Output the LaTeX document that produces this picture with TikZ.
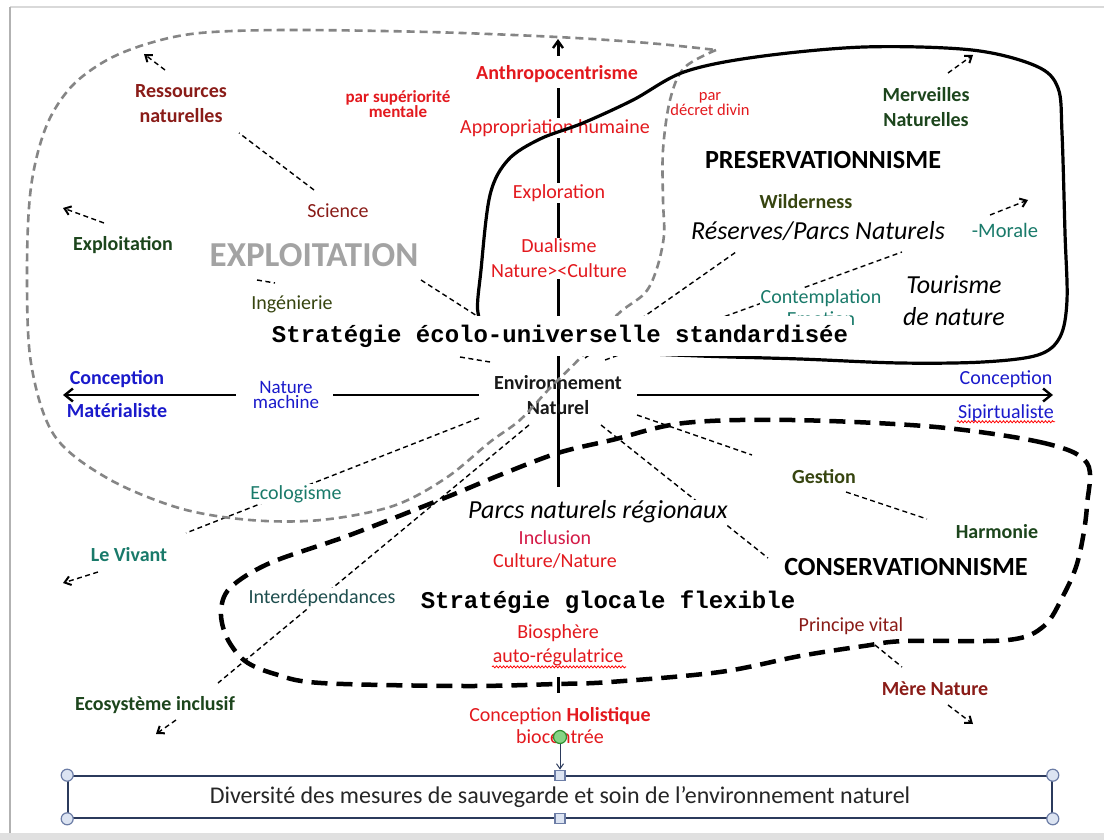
\documentclass[tikz,border=0pt]{standalone}
\usepackage{fontspec}
\setmainfont{Carlito}
\setmonofont{Liberation Mono}
\usetikzlibrary{arrows.meta,decorations.pathmorphing}

\definecolor{txtred}{HTML}{E3191E}
\definecolor{txtcrimson}{HTML}{D41B47}
\definecolor{txtbrown}{HTML}{8A1C18}
\definecolor{txtgreen}{HTML}{1C451C}
\definecolor{txtolive}{HTML}{374510}
\definecolor{txtteal}{HTML}{197A6A}
\definecolor{txtdteal}{HTML}{1E4E4E}
\definecolor{txtblue}{HTML}{1A1ACB}
\definecolor{txtgray}{HTML}{A3A3A3}
\definecolor{curvegray}{HTML}{858585}
\definecolor{boxline}{HTML}{2B3A5C}
\definecolor{handlefill}{HTML}{DCE4F2}
\definecolor{handledraw}{HTML}{6C7DA6}
\definecolor{rotfill}{HTML}{86D486}
\definecolor{rotdraw}{HTML}{2F8F2F}

\tikzset{
  lbl/.style={font=\fontsize{20}{25}\selectfont, inner sep=1pt, align=center},
  lblb/.style={font=\fontsize{20}{25}\selectfont\bfseries, inner sep=1pt, align=center},
  smalllbl/.style={font=\fontsize{16.5}{15}\selectfont, inner sep=1pt, align=center},
  biglbl/.style={font=\fontsize{26.2}{30}\selectfont\bfseries, inner sep=1pt},
  itlbl/.style={font=\fontsize{26}{32}\selectfont\itshape, inner sep=1pt, align=center},
  monolbl/.style={font=\fontsize{24}{28}\selectfont\ttfamily\bfseries, inner sep=2pt},
  blank/.style={fill=white},
  ray/.style={black, line width=1.4pt, dash pattern=on 5pt off 3.5pt},
  rayarrow/.style={ray, -{Straight Barb[length=6pt,width=9pt,line width=2pt]}},
  axis/.style={black, line width=3pt},
  haxis/.style={black, line width=2.6pt},
  graycurve/.style={curvegray, line width=2.6pt, dash pattern=on 8pt off 5pt},
  presv/.style={black, line width=3.2pt},
  conserv/.style={black, line width=4.5pt, dash pattern=on 16pt off 9pt},
  handle/.style={circle, draw=handledraw, fill=handlefill, line width=1.2pt, minimum size=12pt, inner sep=0pt},
  sqhandle/.style={rectangle, draw=handledraw, fill=handlefill, line width=1.2pt, minimum size=10pt, inner sep=0pt},
  wavy/.style={red, line width=0.8pt, decorate, decoration={snake, amplitude=1pt, segment length=3.5pt}}
}

\begin{document}
\begin{tikzpicture}[x=1pt,y=-1pt]
\useasboundingbox (0,0) rectangle (1104,840);
% page frame
\fill[white] (0,0) rectangle (1104,840);
\fill[black!12] (0,833) rectangle (1104,840);
\draw[black!15, line width=1.5pt] (10,7) -- (1104,7);
\draw[black!30, line width=2pt] (10,833) -- (10,7);

% ---------- axis coordinates ----------
\coordinate (vtop) at (558,39);
\coordinate (vtopbase) at (558,56);
\coordinate (vhigh) at (558,88);
\coordinate (vlow) at (558,487);
\coordinate (vb1) at (558,677);
\coordinate (vb2) at (558,693);
\coordinate (tipL) at (63,395);
\coordinate (hl1) at (236,395);
\coordinate (hl2) at (333,395);
\coordinate (hl3) at (479,395);
\coordinate (hr1) at (637,395);
\coordinate (tipR) at (1053,395);

% vertical axis
\draw[axis, -{Straight Barb[length=7pt,width=10pt,line width=2.4pt]}] (vtopbase) -- (vtop);
\draw[axis] (vlow) -- (vhigh);
\draw[axis] (vb1) -- (vb2);
% horizontal axis
\draw[haxis, {Straight Barb[length=8pt,width=13pt,line width=2.4pt]}-] (tipL) -- (hl1);
\draw[haxis] (hl2) -- (hl3);
\draw[haxis, -{Straight Barb[length=8pt,width=13pt,line width=2.4pt]}] (hr1) -- (tipR);

% ---------- radial dashed links ----------
\coordinate (rExpA) at (421,280);  \coordinate (rExpB) at (530,350);
\coordinate (rIngA) at (460,357);  \coordinate (rIngB) at (490,362);
\coordinate (rIng2A) at (257,280); \coordinate (rIng2B) at (275,283);
\coordinate (rResA) at (585,358);  \coordinate (rResB) at (736,252);
\coordinate (rNatA) at (605,360);  \coordinate (rNatB) at (902,252);
\coordinate (rGesA) at (637,415);  \coordinate (rGesB) at (752,455);
\coordinate (rHarA) at (846,492);  \coordinate (rHarB) at (927,519);
\coordinate (rConA) at (601,425);  \coordinate (rConB) at (768,558);
\coordinate (rVivA) at (479,418);  \coordinate (rVivB) at (186,533);
\coordinate (rEcoA) at (529,425);  \coordinate (rEcoB) at (218,683);
\coordinate (rSciA) at (314,190);  \coordinate (rSciB) at (239,133);
\coordinate (rPriA) at (875,645);  \coordinate (rPriB) at (902,667);
\draw[ray] (rExpA) -- (rExpB);
\draw[ray] (rIngA) -- (rIngB);
\draw[ray] (rIng2A) -- (rIng2B);
\draw[ray] (rResA) -- (rResB);
\draw[ray] (rNatA) -- (rNatB);
\draw[ray] (rGesA) -- (rGesB);
\draw[ray] (rHarA) -- (rHarB);
\draw[ray] (rConA) -- (rConB);
\draw[ray] (rVivA) -- (rVivB);
\draw[ray] (rEcoA) -- (rEcoB);
\draw[ray] (rSciA) -- (rSciB);
\draw[ray] (rPriA) -- (rPriB);

% small outward arrows
\coordinate (aResT) at (165,70);  \coordinate (aResH) at (144,54);
\coordinate (aExpT) at (104,223); \coordinate (aExpH) at (63,208);
\coordinate (aMerT) at (948,73);  \coordinate (aMerH) at (973,55);
\coordinate (aMorT) at (990,215); \coordinate (aMorH) at (1028,200);
\coordinate (aVivT) at (98,572);  \coordinate (aVivH) at (63,583);
\coordinate (aEcoT) at (176,720); \coordinate (aEcoH) at (156,734);
\coordinate (aMerNT) at (948,705); \coordinate (aMerNH) at (973,724);
\draw[rayarrow] (aResT) -- (aResH);
\draw[rayarrow] (aExpT) -- (aExpH);
\draw[rayarrow] (aMerT) -- (aMerH);
\draw[rayarrow] (aMorT) -- (aMorH);
\draw[rayarrow] (aVivT) -- (aVivH);
\draw[rayarrow] (aEcoT) -- (aEcoH);
\draw[rayarrow] (aMerNT) -- (aMerNH);

% ---------- labels ----------
\node[lblb, text=txtbrown] (res) at (181,103.5) {Ressources\\naturelles};
\node[smalllbl, font=\fontsize{17}{15}\selectfont\bfseries, text=txtred] (parsup) at (398,104.5) {par supériorité\\mentale};
\node[lblb, text=txtred, blank] (anthro) at (557,74) {Anthropocentrisme};
\node[lbl, text=txtred, blank] (approp) at (555,128) {Appropriation humaine};
\node[lbl, text=txtred, blank] (explo) at (559,193) {Exploration};
\node[lbl, text=txtred, blank] (dual) at (559,258.5) {Dualisme\\Nature><Culture};
\node[smalllbl, text=txtred] (pardiv) at (710,104.5) {par\\décret divin};
\node[lblb, text=txtgreen] (merv) at (926,107.5) {Merveilles\\Naturelles};
\node[biglbl] (presname) at (823,160) {PRESERVATIONNISME};
\node[lblb, text=txtolive] (wild) at (806,202) {Wilderness};
\node[itlbl] (reserves) at (818,231) {Réserves/Parcs Naturels};
\node[lblb, font=\fontsize{20.5}{25}\selectfont, text=txtteal] (morale) at (1005,230) {-Morale};
\node[itlbl] (tour) at (954,301) {Tourisme\\de nature};
\node[lbl, text=txtteal] (emot) at (821,319) {Emotion};
\node[lbl, text=txtteal, blank] (contemp) at (821,298) {Contemplation};
\node[lbl, text=txtbrown] (science) at (338,211) {Science};
\node[lblb, text=txtgreen] (exploit) at (123,245) {Exploitation};
\node[font=\fontsize{35}{38}\selectfont\bfseries, text=txtgray, inner sep=1pt] (exploitname) at (314,255) {EXPLOITATION};
\node[lbl, text=txtolive] (ing) at (292,304) {Ingénierie};

\node[lblb, font=\fontsize{20}{33}\selectfont\bfseries, text=txtblue] (concL) at (117,394.5) {Conception\\Matérialiste};
\node[font=\fontsize{19}{15}\selectfont, text=txtblue, align=center, inner sep=0pt] (natmach) at (286,394.5) {Nature\\machine};
\node[lblb, text=black!90] (env) at (558,395.5) {Environnement\\Naturel};
\node[lbl, text=txtblue] (concR) at (1006,379) {Conception};
\node[lbl, text=txtblue] (sip) at (1006,413) {Sipirtualiste};
\draw[wavy] ([yshift=1pt]sip.south west) -- ([yshift=1pt]sip.south east);

\node[lbl, text=txtteal, blank] (ecolog) at (296,494) {Ecologisme};
\node[lblb, text=txtteal] (vivant) at (129,555) {Le Vivant};
\node[lblb, text=txtolive] (gestion) at (824,477) {Gestion};
\node[lblb, text=txtgreen] (harm) at (997,532) {Harmonie};
\node[itlbl, blank] (parcs) at (598,512) {Parcs naturels régionaux};
\node[lbl, text=txtcrimson, blank, font=\fontsize{20}{23}\selectfont] (incl) at (555,549.5) {Inclusion\\\textcolor{txtred}{Culture/Nature}};
\node[biglbl] (consname) at (906,567) {CONSERVATIONNISME};
\node[lbl, text=txtdteal, blank] (interd) at (322,598) {Interdépendances};
\node[monolbl, blank] (strat2) at (608,602) {Stratégie glocale flexible};
\node[lbl, text=txtred, font=\fontsize{20}{24}\selectfont] (bio) at (558,645) {Biosphère\\auto-régulatrice};
\draw[wavy] ([xshift=-66pt,yshift=0pt]bio.south) -- ([xshift=68pt,yshift=0pt]bio.south);
\node[lbl, text=txtbrown] (princ) at (851,626) {Principe vital};
\node[lblb, text=txtgreen] (ecosys) at (155,705) {Ecosystème inclusif};
\node[lblb, text=txtbrown] (mere) at (935,689) {Mère Nature};
\node[lbl, text=txtred, font=\fontsize{20}{22}\selectfont] (holi) at (560,726) {Conception \textbf{Holistique}\\biocentrée};

% ---------- region outlines ----------
% exploitation region (grey dashed)
\draw[graycurve] plot[smooth, tension=0.55] coordinates {
  (716,50) (684,68) (670,100) (663,150) (663,200) (664,235) (657,268)
  (645,293) (617,315) (583,355) (550,388) (520,420) (490,442) (446,478)
  (393,506) (321,520) (250,520) (179,508) (107,478) (54,435) (31,363)
  (27,270) (31,187) (46,127) (71,87) (107,60) (150,43) (200,33)
  (286,30) (429,32) (557,37) (648,43) (716,50)};
% preservation region (solid)
\draw[presv] plot[smooth cycle, tension=0.55] coordinates {
  (478,313) (481,270) (490,195) (508,160) (540,139) (583,123) (633,100)
  (684,72) (756,57) (864,47) (972,50) (1036,66) (1058,88) (1062,133)
  (1065,233) (1067,300) (1060,337) (1038,355) (983,362) (900,363)
  (800,359) (700,356) (620,352) (540,343) (492,330)};
% conservation region (bold dashed)
\draw[conserv] plot[smooth cycle, tension=0.55] coordinates {
  (1087,463) (1044,443) (936,427) (792,420) (684,423) (612,440)
  (558,453) (500,475) (447,497) (350,535) (270,563) (230,588)
  (221,612) (227,638) (245,661) (275,674) (321,683) (464,686)
  (557,684) (610,682) (720,672) (800,656) (864,646) (905,641)
  (1008,640) (1044,626) (1063,596) (1076,567) (1083,537) (1087,505)};

% strategy banner over the outlines
\node[monolbl, blank, minimum height=40pt] (strat1) at (560,336) {Stratégie écolo-universelle standardisée};

% ---------- bottom text box with selection handles ----------
\node[draw=boxline, line width=1.6pt, minimum width=984pt, minimum height=42pt, inner sep=0pt,
      font=\fontsize{24}{28}\selectfont, text=black!85] (box) at (560,797)
      {Diversité des mesures de sauvegarde et soin de l’environnement naturel};
\node[handle] (hNW) at (box.north west) {};
\node[handle] (hSW) at (box.south west) {};
\node[handle] (hNE) at (box.north east) {};
\node[handle] (hSE) at (box.south east) {};
\node[sqhandle] (hN) at (box.north) {};
\node[sqhandle] (hS) at (box.south) {};
\node[circle, draw=rotdraw, fill=rotfill, line width=1.2pt, minimum size=13pt, inner sep=0pt] (rot) at (560,737) {};
\draw[boxline, line width=1pt, -{Straight Barb[length=5pt,width=7pt]}] (rot.south) -- (hN.north);
\end{tikzpicture}
\end{document}
